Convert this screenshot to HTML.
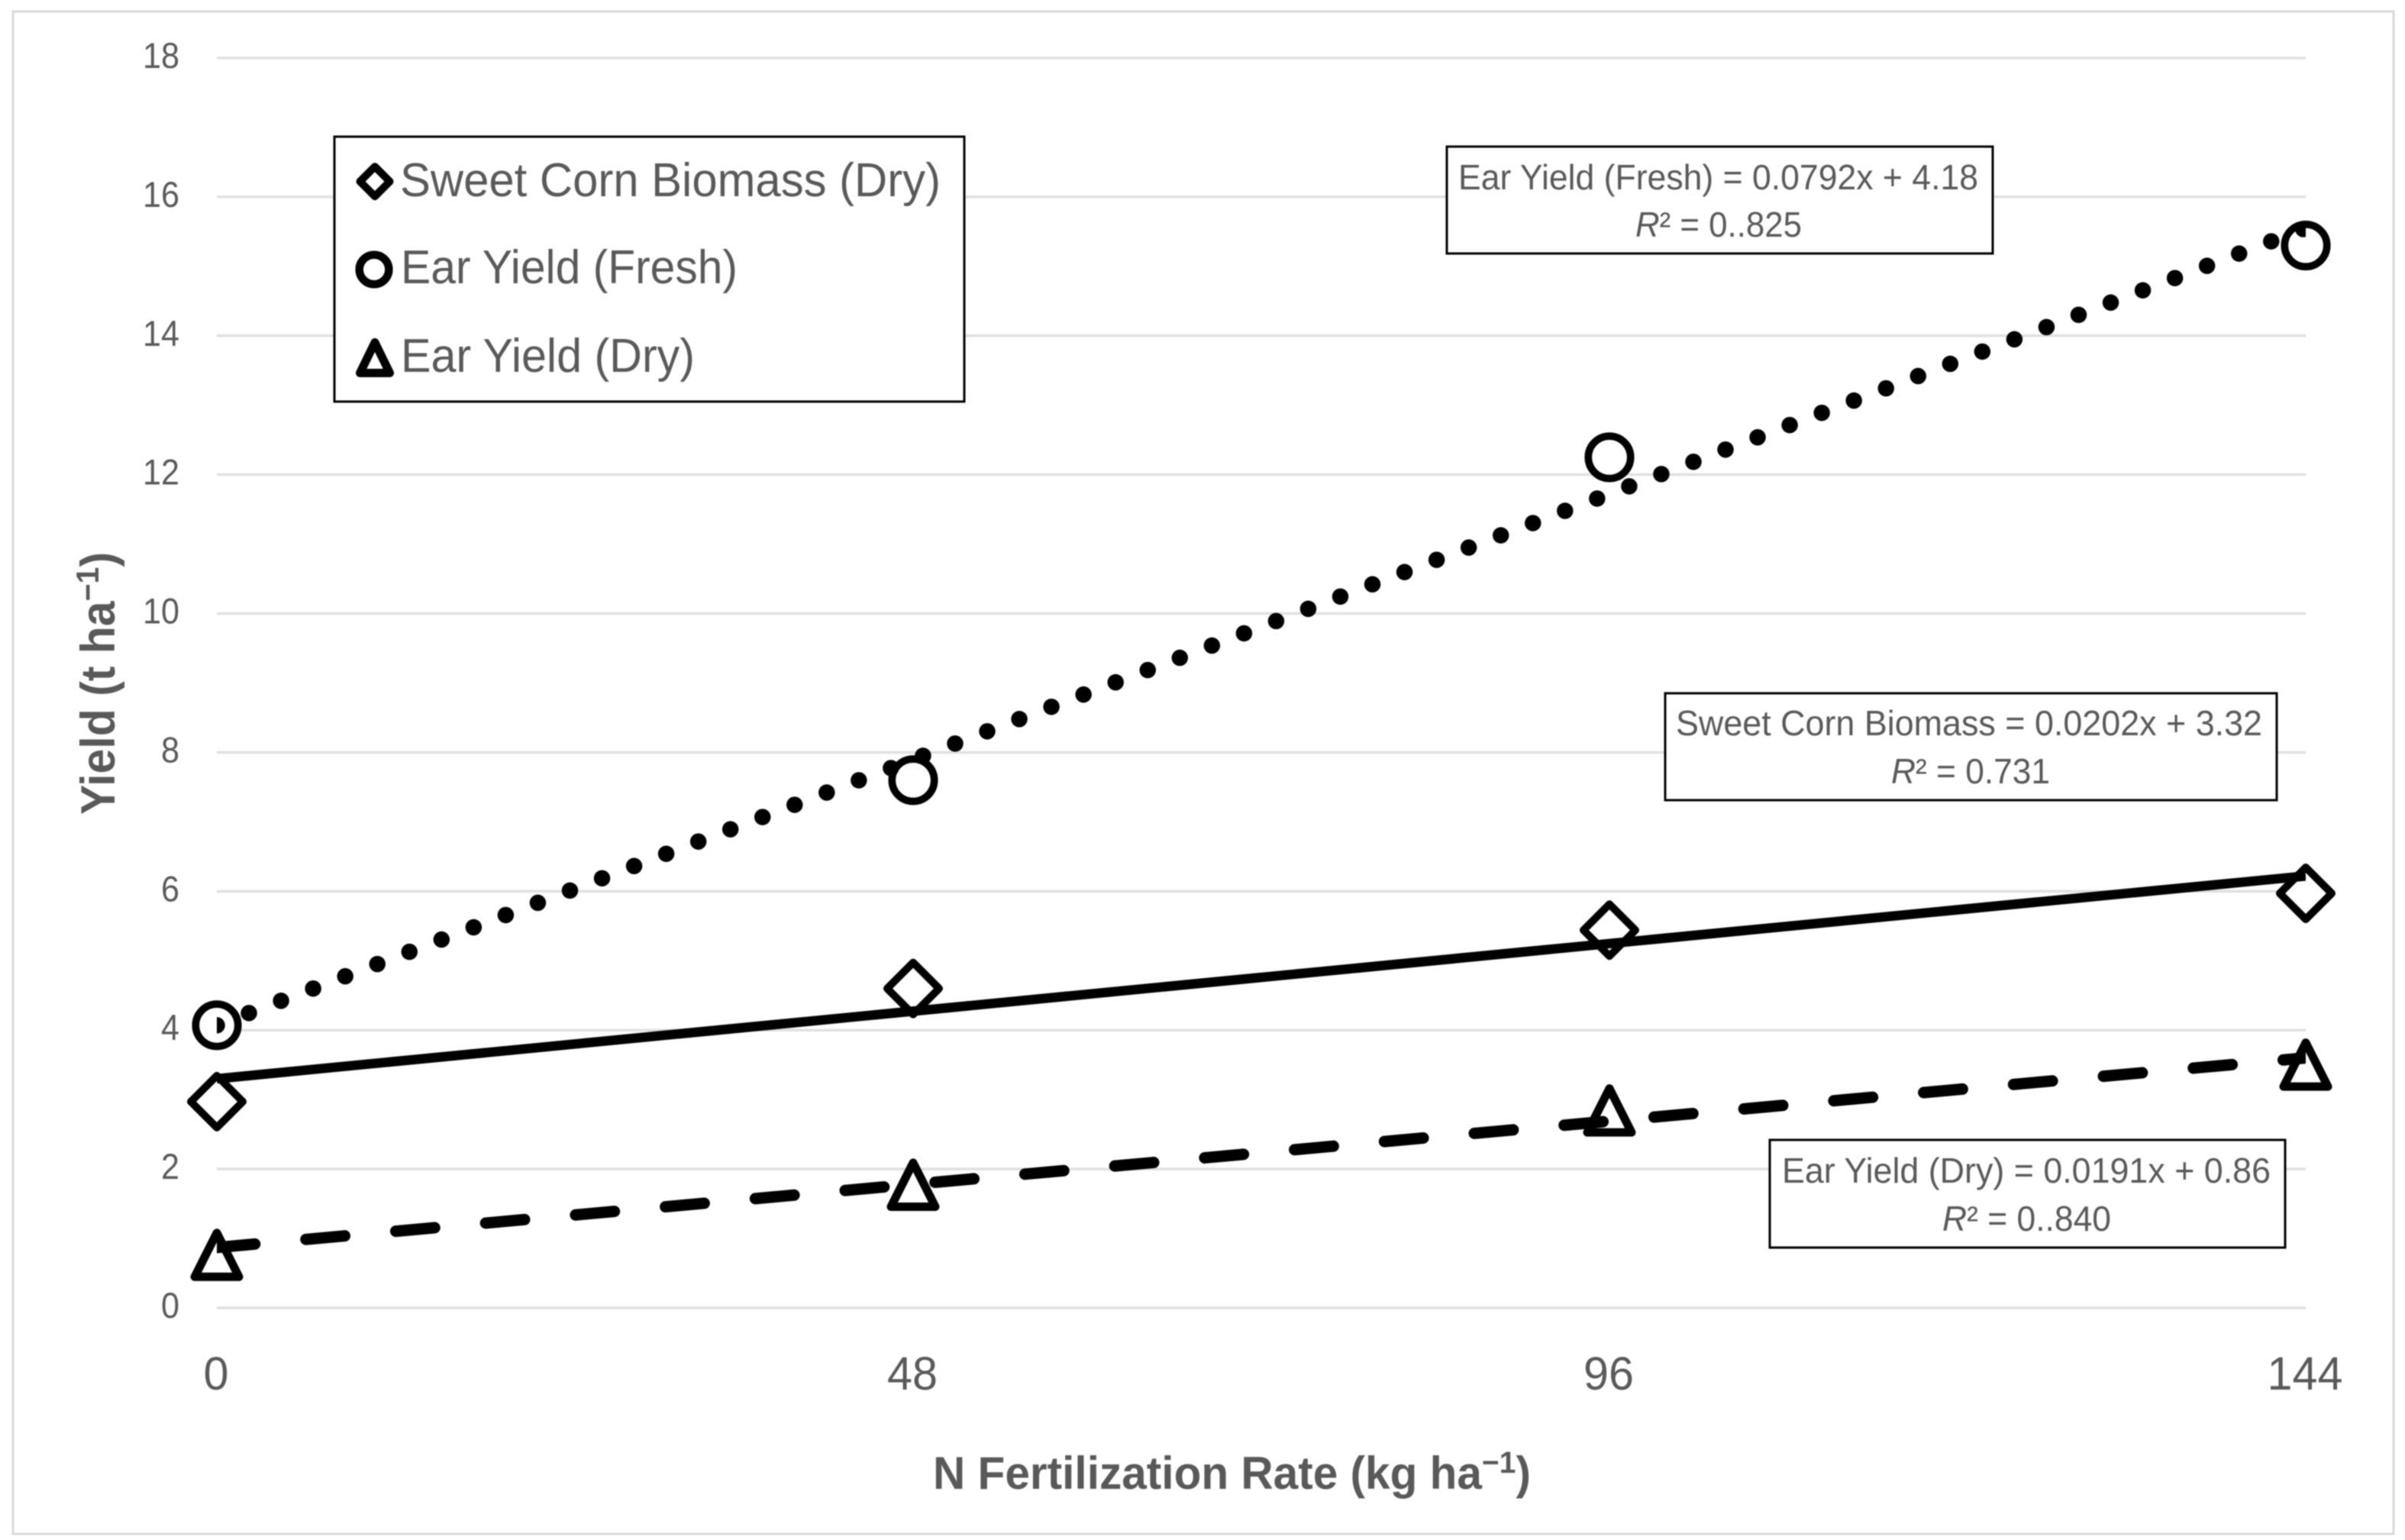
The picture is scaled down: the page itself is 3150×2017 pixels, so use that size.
<!DOCTYPE html>
<html lang="en">
<head>
<meta charset="utf-8">
<title>Yield vs N Fertilization Rate</title>
<style>
html,body{margin:0;padding:0;background:#fff;}
svg{display:block;filter:blur(0.9px);}
text{font-family:"Liberation Sans",sans-serif;fill:#595959;}
</style>
</head>
<body>
<svg id="chart" xmlns="http://www.w3.org/2000/svg" width="3150" height="2017" viewBox="0 0 3150 2017">
  <rect x="0" y="0" width="3150" height="2017" fill="#ffffff"/>
  <rect x="17" y="15" width="3118" height="1994" fill="#ffffff" stroke="#d9d9d9" stroke-width="3"/>
  <g id="grid"></g>
  <g id="yTicksG"></g>
  <g id="xTicksG"></g>
  <g id="marks"></g>
  <g id="lines"></g>

  <text transform="translate(150,1067) rotate(-90)" font-size="63" font-weight="bold" textLength="344" lengthAdjust="spacingAndGlyphs">Yield (t ha<tspan dy="-21" font-size="42">−1</tspan><tspan dy="21">)</tspan></text>
  <text x="1222" y="1950" font-size="60" font-weight="bold" textLength="783" lengthAdjust="spacingAndGlyphs">N Fertilization Rate (kg ha<tspan dy="-21" font-size="40">−1</tspan><tspan dy="21">)</tspan></text>

  <g>
    <rect x="438" y="179" width="825" height="347" fill="#ffffff" stroke="#000" stroke-width="3"/>
    <path d="M491 218.2 L510.5 237.7 L491 257.2 L471.5 237.7 Z" fill="#fff" stroke="#000" stroke-width="10" stroke-linejoin="round"/>
    <text x="524" y="257" font-size="62" textLength="708" lengthAdjust="spacingAndGlyphs">Sweet Corn Biomass (Dry)</text>
    <circle cx="490" cy="353" r="19.3" fill="#fff" stroke="#000" stroke-width="10.5"/>
    <text x="525" y="371" font-size="62" textLength="441" lengthAdjust="spacingAndGlyphs">Ear Yield (Fresh)</text>
    <path d="M491 448.5 L510.5 488.5 L471.5 488.5 Z" fill="#fff" stroke="#000" stroke-width="11" stroke-linejoin="round"/>
    <text x="525" y="487" font-size="62" textLength="385" lengthAdjust="spacingAndGlyphs">Ear Yield (Dry)</text>
  </g>

  <g>
    <rect x="1895" y="192" width="715" height="140" fill="#fff" stroke="#000" stroke-width="3"/>
    <text x="1910" y="248" font-size="46" textLength="681" lengthAdjust="spacingAndGlyphs">Ear Yield (Fresh) = 0.0792x + 4.18</text>
    <text x="2142" y="310" font-size="46" textLength="218" lengthAdjust="spacingAndGlyphs"><tspan font-style="italic">R</tspan>² = 0..825</text>
  </g>
  <g>
    <rect x="2181" y="908" width="801" height="140" fill="#fff" stroke="#000" stroke-width="3"/>
    <text x="2195" y="963" font-size="46" textLength="768" lengthAdjust="spacingAndGlyphs">Sweet Corn Biomass = 0.0202x + 3.32</text>
    <text x="2477" y="1026" font-size="46" textLength="208" lengthAdjust="spacingAndGlyphs"><tspan font-style="italic">R</tspan>² = 0.731</text>
  </g>
  <g>
    <rect x="2318" y="1493" width="675" height="141" fill="#fff" stroke="#000" stroke-width="3"/>
    <text x="2334" y="1549" font-size="46" textLength="640" lengthAdjust="spacingAndGlyphs">Ear Yield (Dry) = 0.0191x + 0.86</text>
    <text x="2544" y="1612" font-size="46" textLength="221" lengthAdjust="spacingAndGlyphs"><tspan font-style="italic">R</tspan>² = 0..840</text>
  </g>
</svg>
<script>
const categories = [0, 48, 96, 144];
const yTickLabels = [0, 2, 4, 6, 8, 10, 12, 14, 16, 18];
const biomassValues = [2.97, 4.6, 5.44, 5.97];
const freshValues = [4.07, 7.6, 12.25, 15.3];
const dryValues = [0.75, 1.76, 2.83, 3.49];
const trendRange = [0, 144];
const biomassTrend = [3.30, 6.22];
const freshTrend = [4.07, 15.55];
const dryTrend = [0.87, 3.6];

const NS = 'http://www.w3.org/2000/svg';
function xScale(v) { return 284 + (v / 144) * 2736; }
function yScale(v) { return 1713 - (v / 18) * 1637; }
function make(tag, attrs, parent) {
  const el = document.createElementNS(NS, tag);
  for (const k in attrs) el.setAttribute(k, attrs[k]);
  parent.appendChild(el);
  return el;
}
const grid = document.getElementById('grid');
const yG = document.getElementById('yTicksG');
const xG = document.getElementById('xTicksG');
const marksG = document.getElementById('marks');
const linesG = document.getElementById('lines');

yTickLabels.forEach(function (t) {
  const g = make('line', {x1: xScale(0), x2: xScale(144), y1: yScale(t), y2: yScale(t), stroke: '#e0e0e0', 'stroke-width': 3.5}, grid);
  
  
  const str = String(t);
  const label = make('text', {x: 235, y: yScale(t) + 13, 'font-size': 47, 'text-anchor': 'end', textLength: str.length * 24, lengthAdjust: 'spacingAndGlyphs'}, yG);
  label.textContent = str;
  
  
});

categories.forEach(function (c) {
  const str = String(c);
  const label = make('text', {x: xScale(c) - 1, y: 1820, 'font-size': 61, 'text-anchor': 'middle', textLength: str.length * 33, lengthAdjust: 'spacingAndGlyphs'}, xG);
  label.textContent = str;
  
  
});

categories.forEach(function (c, i) {
  const x = xScale(c), y = yScale(biomassValues[i]);
  const d = make('path', {d: 'M' + x + ' ' + (y - 34) + ' L' + (x + 34) + ' ' + y + ' L' + x + ' ' + (y + 34) + ' L' + (x - 34) + ' ' + y + ' Z', fill: '#fff', stroke: '#000', 'stroke-width': 10, 'stroke-linejoin': 'round'}, marksG);
  
  
});
categories.forEach(function (c, i) {
  const o = make('circle', {cx: xScale(c), cy: yScale(freshValues[i]), r: 27.7, fill: '#fff', stroke: '#000', 'stroke-width': 9.7}, marksG);
  
  
});
categories.forEach(function (c, i) {
  const x = xScale(c), y = yScale(dryValues[i]);
  const t = make('path', {d: 'M' + x + ' ' + (y - 30) + ' L' + (x + 29) + ' ' + (y + 27.5) + ' L' + (x - 29) + ' ' + (y + 27.5) + ' Z', fill: '#fff', stroke: '#000', 'stroke-width': 11, 'stroke-linejoin': 'round'}, marksG);
  
  
});

const defs = make('defs', {}, document.getElementById('chart'));
const clip = make('clipPath', {id: 'plotClip'}, defs);
make('rect', {x: xScale(0), y: 0, width: xScale(144) - xScale(0), height: 2017}, clip);
linesG.setAttribute('clip-path', 'url(#plotClip)');

function trend(vals, attrs, name) {
  const l = make('line', Object.assign({
    x1: xScale(trendRange[0]), y1: yScale(vals[0]),
    x2: xScale(trendRange[1]), y2: yScale(vals[1]),
    stroke: '#000'
  }, attrs), linesG);
  
  
}
trend(biomassTrend, {'stroke-width': 12.5}, 'biomass-trend-line');
trend(freshTrend, {'stroke-width': 21.5, 'stroke-linecap': 'round', 'stroke-dasharray': '0 45'}, 'fresh-trend-line');
trend(dryTrend, {'stroke-width': 15, 'stroke-linecap': 'round', 'stroke-dasharray': '51 67.2', 'stroke-dashoffset': 1}, 'dry-trend-line');
</script>
</body>
</html>
